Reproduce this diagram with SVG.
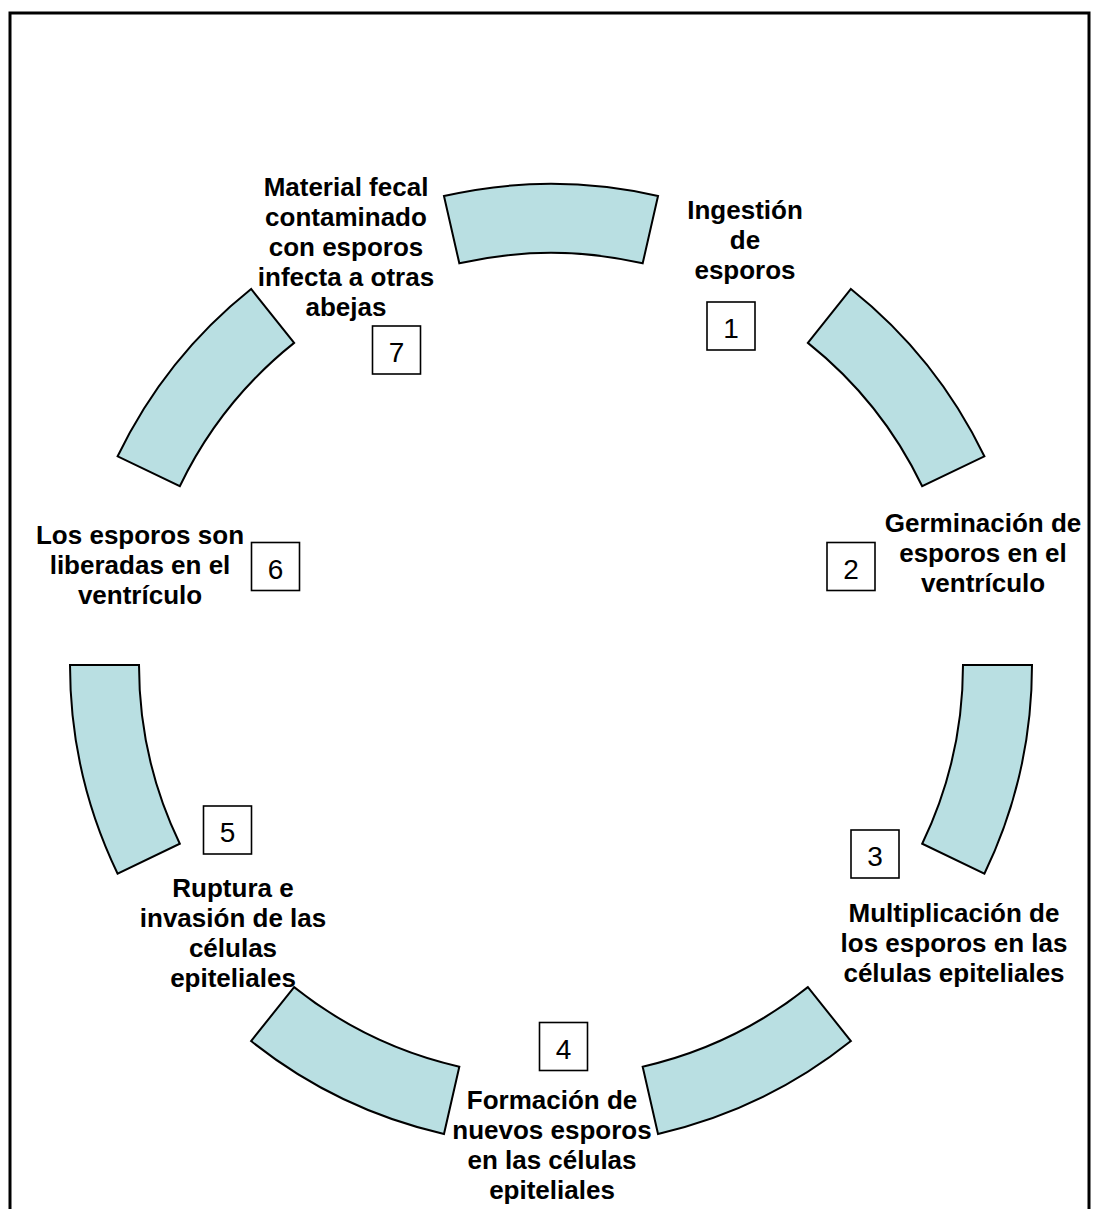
<svg xmlns="http://www.w3.org/2000/svg" width="1101" height="1209" viewBox="0 0 1101 1209">
<style>
.seg{fill:#B9DFE2;stroke:#000;stroke-width:2;stroke-linejoin:miter}
.box{fill:#fff;stroke:#000;stroke-width:1.6}
.num{font-family:"Liberation Sans",Arial,sans-serif;font-size:28px;text-anchor:middle;fill:#000}
.lbl{font-family:"Liberation Sans",Arial,sans-serif;font-size:26px;font-weight:bold;text-anchor:middle;fill:#000}
</style>
<rect x="0" y="0" width="1101" height="1209" fill="#fff"/>
<rect x="10" y="13" width="1079" height="1220" fill="none" stroke="#000" stroke-width="3"/>
<g id="ring">
<path id="seg-top" class="seg" d="M443.97,196.06 A481,481 0 0,1 658.03,196.06 L642.68,263.33 A412,412 0 0,0 459.32,263.33 Z"/>
<path id="seg-upper-right" class="seg" d="M850.90,288.94 A481,481 0 0,1 984.37,456.30 L922.20,486.24 A412,412 0 0,0 807.88,342.89 Z"/>
<path id="seg-right" class="seg" d="M1032,665 A481,481 0 0,1 984.37,873.70 L922.20,843.76 A412,412 0 0,0 963,665 Z"/>
<path id="seg-lower-right" class="seg" d="M850.90,1041.06 A481,481 0 0,1 658.03,1133.94 L642.68,1066.67 A412,412 0 0,0 807.88,987.11 Z"/>
<path id="seg-lower-left" class="seg" d="M443.97,1133.94 A481,481 0 0,1 251.10,1041.06 L294.12,987.11 A412,412 0 0,0 459.32,1066.67 Z"/>
<path id="seg-left" class="seg" d="M117.63,873.70 A481,481 0 0,1 70,665 L139,665 A412,412 0 0,0 179.80,843.76 Z"/>
<path id="seg-upper-left" class="seg" d="M117.63,456.30 A481,481 0 0,1 251.10,288.94 L294.12,342.89 A412,412 0 0,0 179.80,486.24 Z"/>
</g>
<g id="step1">
<rect class="box" x="707" y="302" width="48" height="48"/>
<text class="num" x="731" y="338">1</text>
<text class="lbl" x="745"><tspan x="745" y="219">Ingestión</tspan><tspan x="745" y="249">de</tspan><tspan x="745" y="279">esporos</tspan></text>
</g>
<g id="step2">
<rect class="box" x="827" y="542.5" width="48" height="48"/>
<text class="num" x="851" y="578.5">2</text>
<text class="lbl"><tspan x="983" y="532">Germinación de</tspan><tspan x="983" y="562">esporos en el</tspan><tspan x="983" y="592">ventrículo</tspan></text>
</g>
<g id="step3">
<rect class="box" x="851" y="830" width="48" height="48"/>
<text class="num" x="875" y="866">3</text>
<text class="lbl"><tspan x="954" y="922">Multiplicación de</tspan><tspan x="954" y="952">los esporos en las</tspan><tspan x="954" y="982">células epiteliales</tspan></text>
</g>
<g id="step4">
<rect class="box" x="539.5" y="1022.5" width="48" height="48"/>
<text class="num" x="563.5" y="1058.5">4</text>
<text class="lbl"><tspan x="552" y="1109">Formación de</tspan><tspan x="552" y="1139">nuevos esporos</tspan><tspan x="552" y="1169">en las células</tspan><tspan x="552" y="1199">epiteliales</tspan></text>
</g>
<g id="step5">
<rect class="box" x="203.5" y="806" width="48" height="48"/>
<text class="num" x="227.5" y="842">5</text>
<text class="lbl"><tspan x="233" y="897">Ruptura e</tspan><tspan x="233" y="927">invasión de las</tspan><tspan x="233" y="957">células</tspan><tspan x="233" y="987">epiteliales</tspan></text>
</g>
<g id="step6">
<rect class="box" x="251.5" y="542.5" width="48" height="48"/>
<text class="num" x="275.5" y="578.5">6</text>
<text class="lbl"><tspan x="140" y="544">Los esporos son</tspan><tspan x="140" y="574">liberadas en el</tspan><tspan x="140" y="604">ventrículo</tspan></text>
</g>
<g id="step7">
<rect class="box" x="372.5" y="326" width="48" height="48"/>
<text class="num" x="396.5" y="362">7</text>
<text class="lbl"><tspan x="346" y="196">Material fecal</tspan><tspan x="346" y="226">contaminado</tspan><tspan x="346" y="256">con esporos</tspan><tspan x="346" y="286">infecta a otras</tspan><tspan x="346" y="316">abejas</tspan></text>
</g>
</svg>
